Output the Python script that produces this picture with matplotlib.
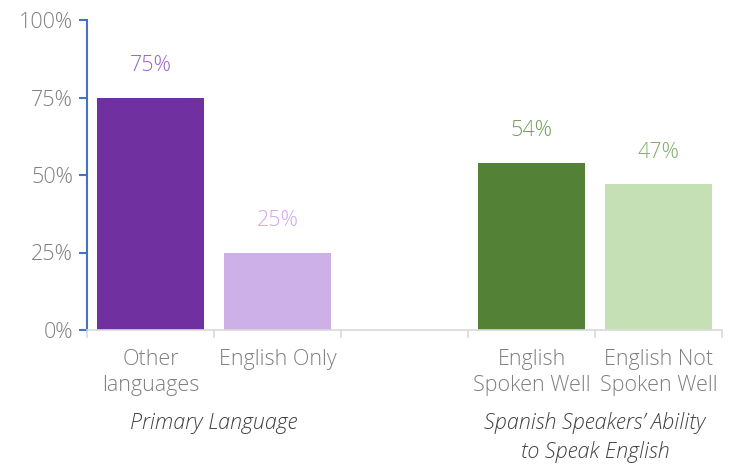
import matplotlib
matplotlib.use("Agg")
import matplotlib.pyplot as plt
from matplotlib import font_manager

categories = ["Other\nlanguages", "English Only", "", "English\nSpoken Well", "English Not\nSpoken Well"]
values = [75, 25, None, 54, 47]
bar_colors = ["#7030A0", "#CDB0E8", None, "#538135", "#C5E0B4"]
label_colors = ["#9B64CC", "#CFA8EC", None, "#72A05A", "#82AE68"]
group_labels = ["Primary Language", "Spanish Speakers\u2019 Ability\nto Speak English"]
group_centers = [0.5, 3.5]
yticks = [0, 25, 50, 75, 100]

names = {f.name for f in font_manager.fontManager.ttflist}
fam = "Open Sans" if "Open Sans" in names else "DejaVu Sans"
plt.rcParams['font.family'] = [fam, 'DejaVu Sans']

fig = plt.figure(figsize=(7.29, 4.66), dpi=100)
ax = fig.add_axes([87/729, 136/466, 635/729, 310/466])

for i, (v, c) in enumerate(zip(values, bar_colors)):
    if v is None:
        continue
    ax.bar(i, v, width=0.85, color=c, zorder=2)
    ax.annotate(f"{v}%", (i, v), xytext=(0, 23), textcoords="offset points",
                ha="center", va="center", color=label_colors[i], fontsize=15.5, fontweight="light")

ax.set_xlim(-0.5, 4.5)
ax.set_ylim(0, 100)
ax.set_yticks(yticks)
ax.set_yticklabels([f"{t}%" for t in yticks], fontsize=15.5, color="#808080", fontweight="light")
ax.set_xticks(range(5))
ax.set_xticklabels(categories, fontsize=15.5, color="#7F7F7F", fontweight="light", linespacing=1.3)
ax.tick_params(axis="x", which="major", length=0, pad=14)
ax.set_xticks([-0.5, 0.5, 1.5, 2.5, 3.5, 4.5], minor=True)
ax.tick_params(axis="x", which="minor", length=6, color="#D9D9D9", width=1.2)
ax.tick_params(axis="y", length=6, color="#4472C4", width=1.5, pad=4)

for s in ["top", "right"]:
    ax.spines[s].set_visible(False)
ax.spines["left"].set_color("#4472C4")
ax.spines["left"].set_linewidth(1.5)
ax.spines["bottom"].set_color("#D9D9D9")
ax.spines["bottom"].set_linewidth(1.2)

trans = matplotlib.transforms.blended_transform_factory(ax.transData, fig.transFigure)
for gx, gl in zip(group_centers, group_labels):
    ax.text(gx, 1 - 412/466, gl, transform=trans, ha="center", va="top",
            fontsize=15.5, style="italic", color="#404040", fontweight="light", linespacing=1.4)

fig.savefig("out.png", dpi=100)
